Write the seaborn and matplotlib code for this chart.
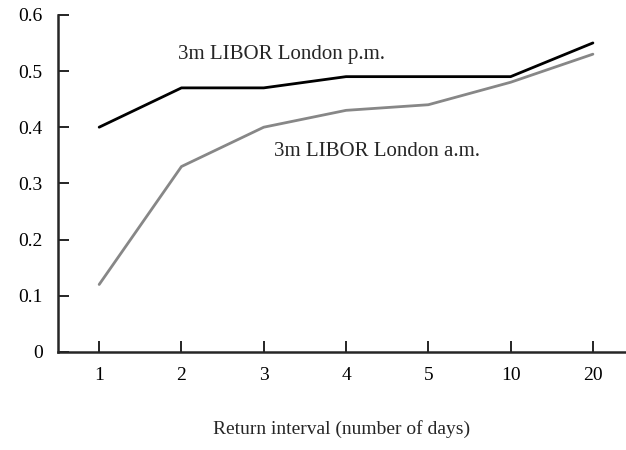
import numpy as np
import pandas as pd
import seaborn as sns
from matplotlib import pyplot as plt

# data
intervals = ["1", "2", "3", "4", "5", "10", "20"]
libor_pm = [0.40, 0.47, 0.47, 0.49, 0.49, 0.49, 0.55]
libor_am = [0.12, 0.33, 0.40, 0.43, 0.44, 0.48, 0.53]
series_names = ["3m LIBOR London p.m.", "3m LIBOR London a.m."]

sns.set_style("ticks")
plt.rcParams.update({
    "font.family": ["Liberation Serif", "DejaVu Serif"],
    "font.size": 14,
    "axes.linewidth": 1.8,
    "xtick.direction": "in",
    "ytick.direction": "in",
    "xtick.major.size": 8,
    "ytick.major.size": 8,
    "xtick.major.width": 1.2,
    "ytick.major.width": 1.2,
    "xtick.color": "black",
    "ytick.color": "black",
})

df = pd.DataFrame({
    "pos": list(range(len(intervals))) * 2,
    "value": libor_pm + libor_am,
    "series": [series_names[0]] * len(intervals) + [series_names[1]] * len(intervals),
})

fig = plt.figure(figsize=(6.26, 4.5), dpi=100)
ax = fig.add_axes([0.0927, 0.218, 0.907, 0.749])

sns.lineplot(data=df, x="pos", y="value", hue="series",
             palette={series_names[0]: "black", series_names[1]: "#878787"},
             linewidth=2, legend=False, ax=ax)

ax.set_xlim(-0.5, 6.4)
ax.set_ylim(0, 0.6)
ax.set_xticks(range(len(intervals)))
ax.set_xticklabels(intervals)
ax.set_yticks([0, 0.1, 0.2, 0.3, 0.4, 0.5, 0.6])
ax.set_yticklabels(["0", "0.1", "0.2", "0.3", "0.4", "0.5", "0.6"])
ax.tick_params(axis="x", pad=11)
ax.tick_params(axis="y", pad=11)
for s in ["top", "right"]:
    ax.spines[s].set_visible(False)

ax.set_ylabel("")
ax.set_xlabel("Return interval (number of days)", labelpad=26)

ax.text(0.96, 0.529, series_names[0], fontsize=15, va="center", ha="left")
ax.text(2.12, 0.357, series_names[1], fontsize=15, va="center", ha="left")

fig.savefig("out.png", dpi=100)
